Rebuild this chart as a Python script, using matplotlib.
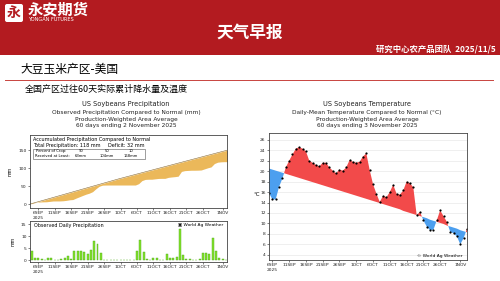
import numpy as np
import pandas as pd
import matplotlib.pyplot as plt
from matplotlib.patches import Rectangle, FancyBboxPatch

plt.rcParams['font.family'] = ['Noto Sans CJK SC', 'DejaVu Sans']

# Precipitation: 60 days ending 2 Nov 2025 (mm)
PRECIP_START = '2025-09-04'
daily_precip = [
    4.0, 0.9, 0.8, 0.4, 0.2, 1.1, 1.1, 0.1, 0.0, 0.5,   # 4-13 Sep
    1.1, 1.6, 0.7, 4.0, 3.7, 3.7, 3.5, 2.8, 4.2, 8.0,   # 14-23 Sep
    7.0, 3.1, 0.3, 0.1, 0.0, 0.0, 0.0, 0.0, 0.0, 0.0,   # 24 Sep - 3 Oct
    0.0, 0.0, 3.8, 8.5, 3.3, 0.5, 0.0, 1.1, 1.1, 0.2,   # 4-13 Oct
    0.0, 2.8, 1.1, 0.9, 1.3, 13.2, 2.2, 0.6, 0.5, 0.0,  # 14-23 Oct
    0.2, 0.5, 3.1, 3.0, 2.5, 9.3, 3.8, 1.0, 0.4, 0.0,   # 24 Oct - 2 Nov
]
normal_daily_precip = [2.6] * 27 + [2.42] * 31 + [2.4] * 2
crop_pct = [90, 50, 10]
crop_received = ['63mm', '104mm', '168mm']

# Temperature: 60 days ending 3 Nov 2025 (deg C)
TEMP_START = '2025-09-05'
temp_obs = [
    15.8, 14.6, 14.6, 17.0, 18.6, 20.7, 22.0, 23.2, 24.3, 24.6,
    24.3, 23.8, 22.0, 21.6, 21.2, 20.9, 21.6, 21.6, 20.7, 20.1,
    19.6, 20.3, 20.1, 20.7, 22.1, 21.8, 21.6, 21.8, 22.8, 23.4,
    20.2, 17.5, 15.7, 14.1, 15.3, 15.0, 16.0, 17.4, 15.7, 15.5,
    16.3, 18.0, 17.7, 16.9, 11.6, 12.2, 10.6, 9.4, 8.7, 8.8,
    10.6, 12.5, 11.4, 10.3, 8.4, 8.1, 7.5, 6.0, 7.2, 9.0,
]
temp_normal = [
    20.5, 20.3, 20.1, 19.9, 19.7, 19.5, 19.3, 19.1, 18.9, 18.7,
    18.5, 18.3, 18.1, 17.9, 17.7, 17.5, 17.3, 17.1, 16.9, 16.7,
    16.5, 16.3, 16.1, 15.9, 15.7, 15.5, 15.3, 15.1, 14.9, 14.7,
    14.5, 14.3, 14.1, 13.9, 13.7, 13.5, 13.3, 13.1, 12.9, 12.7,
    12.4, 12.2, 12.0, 11.8, 11.6, 11.4, 11.2, 11.0, 10.7, 10.5,
    10.3, 10.1, 9.9, 9.6, 9.4, 9.2, 9.0, 8.7, 8.5, 8.3,
]

tick_days = ['2025-09-06', '2025-09-11', '2025-09-16', '2025-09-21', '2025-09-26', '2025-10-01',
             '2025-10-06', '2025-10-11', '2025-10-16', '2025-10-21', '2025-10-26', '2025-11-01']

RED = '#B31B20'
GOLD = '#EBB85A'
GREEN = '#84E22C'
HOT = '#F24A4A'
COLD = '#4C9FEF'
CHART_FONT = 'DejaVu Sans'


def style_axis(ax):
    for s in ax.spines.values():
        s.set_linewidth(0.6)
        s.set_color('#444444')
    ax.tick_params(length=1.5, width=0.4, labelsize=3.2, pad=1, colors='#222222')
    ticks = pd.to_datetime(tick_days)
    labels = [f"{d.day}{d.strftime('%b').upper()}" for d in ticks]
    labels[0] += '\n2025'
    ax.set_xticks(ticks)
    ax.set_xticklabels(labels, family=CHART_FONT)
    for lab in ax.get_yticklabels():
        lab.set_family(CHART_FONT)


fig = plt.figure(figsize=(5, 2.81), dpi=100)

# slide background, drawn in pixel coordinates
bg = fig.add_axes([0, 0, 1, 1])
bg.set_xlim(0, 500)
bg.set_ylim(281, 0)
bg.axis('off')
bg.add_patch(Rectangle((0, 0), 500, 55, color=RED, lw=0))
bg.add_patch(FancyBboxPatch((5, 4), 18, 18, boxstyle='round,pad=0,rounding_size=2', fc='white', ec='none'))
bg.text(14, 13, '永', color=RED, fontsize=10, fontweight='bold', ha='center', va='center')
bg.text(28, 9.5, '永安期货', color='white', fontsize=11, fontweight='bold', va='center')
bg.text(28.5, 19.5, 'YONGAN FUTURES', color='white', fontsize=3.6, va='center', family=CHART_FONT)
bg.text(250, 33, '天气早报', color='white', fontsize=12, fontweight='bold', ha='center', va='center')
bg.text(496, 49, '研究中心农产品团队  2025/11/5', color='white', fontsize=6, fontweight='bold',
        ha='right', va='center')
bg.text(20, 70, '大豆玉米产区-美国', fontsize=8.5, va='center')
bg.plot([5, 493], [79.5, 79.5], color='#C8443E', lw=0.7)
bg.text(25, 89.5, '全国产区过往60天实际累计降水量及温度', fontsize=6.5, va='center')

precip_titles = ['US Soybeans Precipitation',
                 'Observed Precipitation Compared to Normal (mm)',
                 'Production-Weighted Area Average',
                 '60 days ending 2 November 2025']
temp_titles = ['US Soybeans Temperature',
               'Daily-Mean Temperature Compared to Normal (°C)',
               'Production-Weighted Area Average',
               '60 days ending 3 November 2025']
for i, y in enumerate([104, 112.5, 119.5, 126]):
    size = 4.8 if i == 0 else 4.2
    bg.text(126, y, precip_titles[i], fontsize=size, ha='center', va='center', family=CHART_FONT, color='#222222')
    bg.text(367, y, temp_titles[i], fontsize=size, ha='center', va='center', family=CHART_FONT, color='#222222')

# ---- accumulated precipitation
pdays = pd.date_range(PRECIP_START, periods=len(daily_precip), freq='D')
acc_x = pd.date_range(pd.Timestamp(PRECIP_START) - pd.Timedelta(hours=12), periods=len(daily_precip) + 1, freq='D')
acc_obs = np.concatenate([[0], np.cumsum(daily_precip)])
acc_norm = np.concatenate([[0], np.cumsum(normal_daily_precip)])
xlim = (acc_x[0], pdays[-1] + pd.Timedelta(hours=8))

ax1 = fig.add_axes([30 / 500, 1 - 208 / 281, 197 / 500, 73 / 281])
ax1.fill_between(acc_x, acc_obs, acc_norm, color=GOLD, lw=0)
ax1.plot(acc_x, acc_norm, color='#8A6A30', lw=0.4)
ax1.set_xlim(*xlim)
ax1.set_ylim(-11, 192)
ax1.set_yticks([0, 50, 100, 150])
style_axis(ax1)
ax1.set_ylabel('mm', fontsize=3.4, family=CHART_FONT, labelpad=4)
total = acc_obs[-1]
ax1.text(0.015, 0.945, 'Accumulated Precipitation Compared to Normal', transform=ax1.transAxes,
         fontsize=3.5, va='center', family=CHART_FONT)
ax1.text(0.015, 0.863, f'Total Precipitation: {total:.0f} mm     Deficit: {acc_norm[-1] - total:.0f} mm',
         transform=ax1.transAxes, fontsize=3.5, va='center', family=CHART_FONT)
ax1.add_patch(Rectangle((0.015, 0.675), 0.57, 0.135, transform=ax1.transAxes, fill=False,
                        ec='#555555', lw=0.4))
ax1.text(0.03, 0.775, 'Percent of Crop:', transform=ax1.transAxes, fontsize=2.7, va='center', family=CHART_FONT)
ax1.text(0.025, 0.715, 'Received at Least:', transform=ax1.transAxes, fontsize=2.7, va='center', family=CHART_FONT)
for cx, pct, rec in zip([0.26, 0.39, 0.51], crop_pct, crop_received):
    ax1.text(cx, 0.775, str(pct), transform=ax1.transAxes, fontsize=2.7, ha='center', va='center', family=CHART_FONT)
    ax1.text(cx, 0.715, rec, transform=ax1.transAxes, fontsize=2.7, ha='center', va='center', family=CHART_FONT)

# ---- daily precipitation bars
ax2 = fig.add_axes([30 / 500, 1 - 262 / 281, 197 / 500, 41 / 281])
ax2.bar(pdays, daily_precip, width=0.6, color=GREEN, edgecolor='#4DA91C', lw=0.3)
ax2.set_xlim(*xlim)
ax2.set_ylim(-0.7, 16.4)
ax2.set_yticks([0, 5, 10, 15])
style_axis(ax2)
ax2.set_ylabel('mm', fontsize=3.4, family=CHART_FONT, labelpad=4)
ax2.text(0.02, 0.9, 'Observed Daily Precipitation', transform=ax2.transAxes, fontsize=3.5,
         va='center', family=CHART_FONT)
ax2.text(0.98, 0.9, '▣ World Ag Weather', transform=ax2.transAxes, fontsize=3.2, ha='right',
         va='center', family=CHART_FONT)

# ---- temperature
tdays = pd.date_range(TEMP_START, periods=len(temp_obs), freq='D')
tobs = np.array(temp_obs)
tnorm = np.array(temp_normal)
ax3 = fig.add_axes([269 / 500, 1 - 260 / 281, 198 / 500, 127 / 281])
ax3.set_yticks(np.arange(4, 27, 2))
ax3.grid(axis='y', color='#E4E4E4', lw=0.4)
ax3.set_axisbelow(True)
ax3.fill_between(tdays, tobs, tnorm, where=tobs >= tnorm, interpolate=True, color=HOT, lw=0)
ax3.fill_between(tdays, tobs, tnorm, where=tobs <= tnorm, interpolate=True, color=COLD, lw=0)
ax3.plot(tdays, tobs, 'o', color='black', markersize=1.6, markeredgewidth=0)
ax3.set_xlim(tdays[0], tdays[-1])
ax3.set_ylim(3, 27.3)
style_axis(ax3)
ax3.set_ylabel('°C', fontsize=4, family=CHART_FONT, rotation=0, labelpad=2)
ax3.text(0.975, 0.035, '© World Ag Weather', transform=ax3.transAxes, fontsize=3.2, ha='right',
         va='center', family=CHART_FONT)

fig.savefig('out.png', dpi=100)
